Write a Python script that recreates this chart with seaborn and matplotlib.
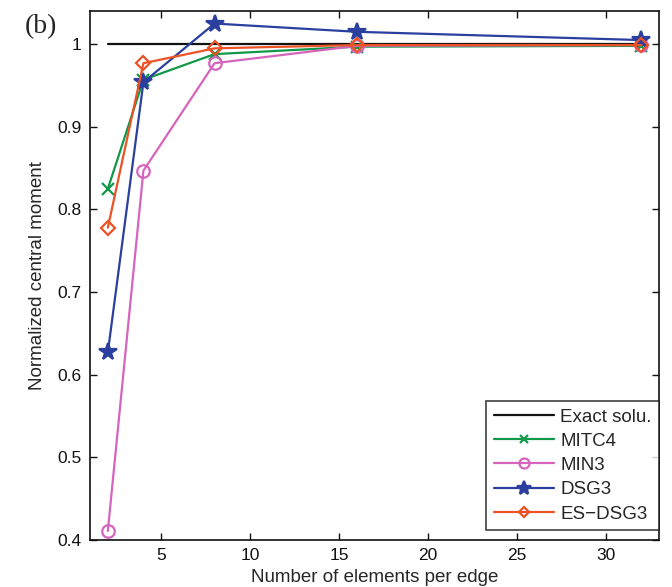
import matplotlib
matplotlib.use("Agg")
import matplotlib.pyplot as plt
import seaborn as sns
import pandas as pd

sns.set_theme(style="ticks")
plt.rcParams['font.family'] = ['Liberation Sans', 'DejaVu Sans']

elements = [2, 4, 8, 16, 32]
mitc4 = [0.825, 0.957, 0.988, 0.997, 0.998]
min3 = [0.411, 0.847, 0.977, 0.998, 0.999]
dsg3 = [0.627, 0.954, 1.025, 1.015, 1.005]
es_dsg3 = [0.778, 0.977, 0.995, 0.999, 0.999]
exact = [1.0, 1.0, 1.0, 1.0, 1.0]

series = {
    "Exact solu.": exact,
    "MITC4": mitc4,
    "MIN3": min3,
    "DSG3": dsg3,
    "ES\u2212DSG3": es_dsg3,
}
df = pd.concat(
    [pd.DataFrame({"n": elements, "value": v, "method": k}) for k, v in series.items()],
    ignore_index=True,
)

palette = {
    "Exact solu.": "#111111",
    "MITC4": "#12984a",
    "MIN3": "#d564bd",
    "DSG3": "#2a3f9e",
    "ES\u2212DSG3": "#ec5226",
}
markers = {
    "Exact solu.": "",
    "MITC4": "x",
    "MIN3": "o",
    "DSG3": "*",
    "ES\u2212DSG3": "D",
}
msizes = {"Exact solu.": 0, "MITC4": 8, "MIN3": 9, "DSG3": 13, "ES\u2212DSG3": 7}

fig = plt.figure(figsize=(6.72, 5.87), dpi=100)
ax = fig.add_axes([0.134, 0.080, 0.847, 0.901])

for name in series:
    sub = df[df["method"] == name]
    sns.lineplot(
        data=sub, x="n", y="value", ax=ax, color=palette[name],
        marker=markers[name] if markers[name] else None,
        markersize=msizes[name], linewidth=1.6, label=name,
        markerfacecolor="none" if name in ("MIN3", "ES\u2212DSG3") else palette[name],
        markeredgecolor=palette[name], markeredgewidth=1.6,
    )

ax.set_xlim(1, 33)
ax.set_ylim(0.4, 1.04)
ax.set_xticks([5, 10, 15, 20, 25, 30])
ax.set_yticks([0.4, 0.5, 0.6, 0.7, 0.8, 0.9, 1.0])
ax.set_yticklabels(["0.4", "0.5", "0.6", "0.7", "0.8", "0.9", "1"])
ax.tick_params(direction="in", top=True, right=True, labelsize=12.5, length=5, width=1,
               colors="#111111", pad=6)
for s in ax.spines.values():
    s.set_linewidth(1.2)
    s.set_color("#111111")
ax.set_xlabel("Number of elements per edge", fontsize=13.5, labelpad=4)
ax.set_ylabel("Normalized central moment", fontsize=13.5, labelpad=8)

leg = ax.legend(loc="lower right", bbox_to_anchor=(1.0, 10 / 529), fontsize=13.5,
                frameon=True, fancybox=False, edgecolor="#111111", borderaxespad=0.0,
                handlelength=3.2, labelspacing=0.38, handletextpad=0.35, borderpad=0.4,
                markerscale=0.8)
leg.get_frame().set_linewidth(1.2)

fig.text(0.037, 0.944, "(b)", fontsize=20, va="baseline", family=["Liberation Serif"])

fig.savefig("out.png", dpi=100)
